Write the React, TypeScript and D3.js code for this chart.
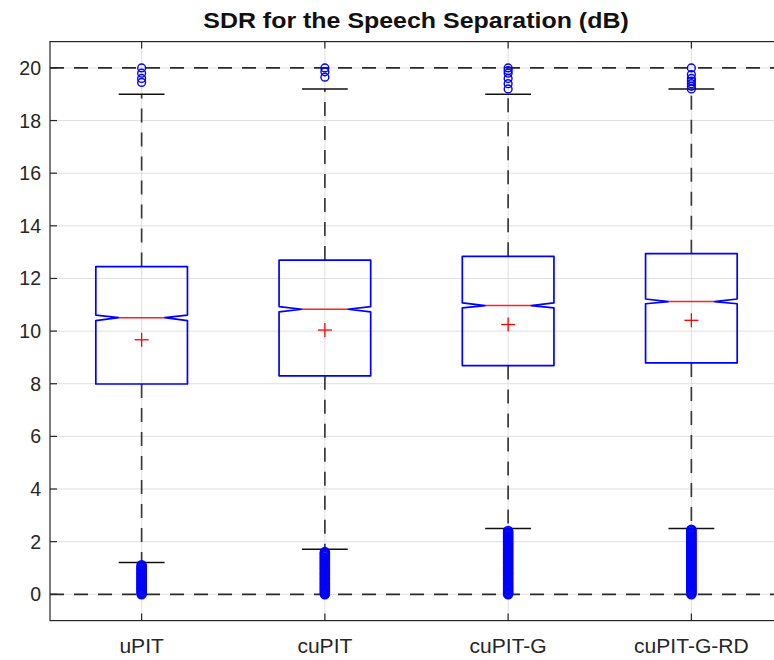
import React from 'react';
import * as d3 from 'd3';

const categories = ['uPIT', 'cuPIT', 'cuPIT-G', 'cuPIT-G-RD'];
const q1 = [7.99, 8.3, 8.69, 8.79];
const q3 = [12.45, 12.7, 12.84, 12.94];
const medians = [10.51, 10.83, 10.97, 11.12];
const notchLo = [10.4, 10.73, 10.88, 11.04];
const notchHi = [10.61, 10.93, 11.07, 11.22];
const means = [9.67, 10.04, 10.25, 10.41];
const upperWhisker = [19.0, 19.2, 19.0, 19.2];
const lowerWhisker = [1.21, 1.71, 2.5, 2.5];
const upperOutliers = [
  [20, 19.8, 19.6, 19.45],
  [20, 19.85, 19.65],
  [20, 19.9, 19.8, 19.6, 19.4, 19.2],
  [20, 19.75, 19.6, 19.5, 19.4, 19.3, 19.2],
];
const lowerOutliers = [
  [0, 0.05, 0.1, 0.15, 0.2, 0.25, 0.3, 0.35, 0.4, 0.45, 0.5, 0.55, 0.6, 0.65, 0.7, 0.75, 0.8, 0.85, 0.9, 0.95, 1.0, 1.05, 1.1],
  [0, 0.05, 0.1, 0.15, 0.2, 0.25, 0.3, 0.35, 0.4, 0.45, 0.5, 0.55, 0.6, 0.65, 0.7, 0.75, 0.8, 0.85, 0.9, 0.95, 1.0, 1.05, 1.1, 1.15, 1.2, 1.25, 1.3, 1.35, 1.4, 1.45, 1.5, 1.55, 1.6],
  [0, 0.05, 0.1, 0.15, 0.2, 0.25, 0.3, 0.35, 0.4, 0.45, 0.5, 0.55, 0.6, 0.65, 0.7, 0.75, 0.8, 0.85, 0.9, 0.95, 1.0, 1.05, 1.1, 1.15, 1.2, 1.25, 1.3, 1.35, 1.4, 1.45, 1.5, 1.55, 1.6, 1.65, 1.7, 1.75, 1.8, 1.85, 1.9, 1.95, 2.0, 2.05, 2.1, 2.15, 2.2, 2.25, 2.3, 2.35, 2.4],
  [0, 0.05, 0.1, 0.15, 0.2, 0.25, 0.3, 0.35, 0.4, 0.45, 0.5, 0.55, 0.6, 0.65, 0.7, 0.75, 0.8, 0.85, 0.9, 0.95, 1.0, 1.05, 1.1, 1.15, 1.2, 1.25, 1.3, 1.35, 1.4, 1.45, 1.5, 1.55, 1.6, 1.65, 1.7, 1.75, 1.8, 1.85, 1.9, 1.95, 2.0, 2.05, 2.1, 2.15, 2.2, 2.25, 2.3, 2.35, 2.4, 2.45],
];
const yTicks = [0, 2, 4, 6, 8, 10, 12, 14, 16, 18, 20];
const refLines = [0, 20];
const title = 'SDR for the Speech Separation (dB)';

const W = 774;
const H = 660;
const left = 50;
const right = 783;
const top = 41.6;
const bottom = 620.6;

export default function App() {
  const x = d3.scaleLinear().domain([0.5, 4.5]).range([left, right]);
  const y = d3.scaleLinear().domain([-1, 21]).range([bottom, top]);
  const hw = (x(1.25) - x(1));
  const nw = hw / 2;
  const capW = hw / 2;
  const font = 'Liberation Sans, Arial, Helvetica, sans-serif';
  const axisColor = '#262626';
  const gridColor = '#dfdfdf';

  return (
    <svg width={W} height={H} style={{ position: 'absolute', left: 0, top: 0, background: '#fff' }}>
      <rect x={0} y={0} width={W} height={H} fill="#fff" />
      {/* grid */}
      {yTicks.map((t) => (
        <line key={'gy' + t} x1={left} x2={right} y1={y(t)} y2={y(t)} stroke={gridColor} strokeWidth={1} />
      ))}
      {categories.map((c, i) => (
        <line key={'gx' + c} x1={x(i + 1)} x2={x(i + 1)} y1={top} y2={bottom} stroke={gridColor} strokeWidth={1} />
      ))}
      {/* reference dashed lines */}
      {refLines.map((r) => (
        <line key={'ref' + r} x1={left} x2={right} y1={y(r)} y2={y(r)} stroke="#2a2a2a" strokeWidth={1.8} strokeDasharray="14,10" />
      ))}
      {/* boxes */}
      {categories.map((c, i) => {
        const cx = x(i + 1);
        const path = d3.path();
        path.moveTo(cx - hw, y(q3[i]));
        path.lineTo(cx + hw, y(q3[i]));
        path.lineTo(cx + hw, y(notchHi[i]));
        path.lineTo(cx + nw, y(medians[i]));
        path.lineTo(cx + hw, y(notchLo[i]));
        path.lineTo(cx + hw, y(q1[i]));
        path.lineTo(cx - hw, y(q1[i]));
        path.lineTo(cx - hw, y(notchLo[i]));
        path.lineTo(cx - nw, y(medians[i]));
        path.lineTo(cx - hw, y(notchHi[i]));
        path.closePath();
        return (
          <g key={'box' + c}>
            <line x1={cx} x2={cx} y1={y(q3[i])} y2={y(upperWhisker[i])} stroke="#3a3a3a" strokeWidth={1.7} strokeDasharray="14,10" />
            <line x1={cx} x2={cx} y1={y(q1[i])} y2={y(lowerWhisker[i])} stroke="#3a3a3a" strokeWidth={1.7} strokeDasharray="14,10" />
            <line x1={cx - capW} x2={cx + capW} y1={y(upperWhisker[i])} y2={y(upperWhisker[i])} stroke="#111" strokeWidth={1.4} />
            <line x1={cx - capW} x2={cx + capW} y1={y(lowerWhisker[i])} y2={y(lowerWhisker[i])} stroke="#111" strokeWidth={1.4} />
            <path d={path.toString()} fill="none" stroke="#0000ff" strokeWidth={1.7} strokeLinejoin="round" />
            <line x1={cx - nw} x2={cx + nw} y1={y(medians[i])} y2={y(medians[i])} stroke="#ff2020" strokeWidth={1.5} />
            <line x1={cx - 7} x2={cx + 7} y1={y(means[i])} y2={y(means[i])} stroke="#ff0000" strokeWidth={1.3} />
            <line x1={cx} x2={cx} y1={y(means[i]) - 7} y2={y(means[i]) + 7} stroke="#ff0000" strokeWidth={1.3} />
            {upperOutliers[i].map((v, k) => (
              <circle key={'uo' + k} cx={cx} cy={y(v)} r={3.9} fill="none" stroke="#0000ff" strokeWidth={1.4} />
            ))}
            {lowerOutliers[i].map((v, k) => (
              <circle key={'lo' + k} cx={cx} cy={y(v)} r={4.4} fill="none" stroke="#0000ff" strokeWidth={1.8} />
            ))}
          </g>
        );
      })}
      {/* axes box */}
      <rect x={left} y={top} width={right - left} height={bottom - top} fill="none" stroke={axisColor} strokeWidth={1.2} />
      {yTicks.map((t) => (
        <g key={'ty' + t}>
          <line x1={left} x2={left + 7} y1={y(t)} y2={y(t)} stroke={axisColor} strokeWidth={1.2} />
          <line x1={right} x2={right - 7} y1={y(t)} y2={y(t)} stroke={axisColor} strokeWidth={1.2} />
          <text x={41} y={y(t) + 7} textAnchor="end" fontFamily={font} fontSize={19.5} fill={axisColor}>
            {t}
          </text>
        </g>
      ))}
      {categories.map((c, i) => (
        <g key={'tx' + c}>
          <line x1={x(i + 1)} x2={x(i + 1)} y1={bottom} y2={bottom - 7} stroke={axisColor} strokeWidth={1.2} />
          <line x1={x(i + 1)} x2={x(i + 1)} y1={top} y2={top + 7} stroke={axisColor} strokeWidth={1.2} />
          <text transform={`translate(${x(i + 1)},653) scale(1.08,1)`} textAnchor="middle" fontFamily={font} fontSize={19.5} fill={axisColor}>
            {c}
          </text>
        </g>
      ))}
      <text transform={`translate(416,28) scale(1.085,1)`} textAnchor="middle" fontFamily={font} fontSize={23} fontWeight="bold" fill="#111">
        {title}
      </text>
    </svg>
  );
}
